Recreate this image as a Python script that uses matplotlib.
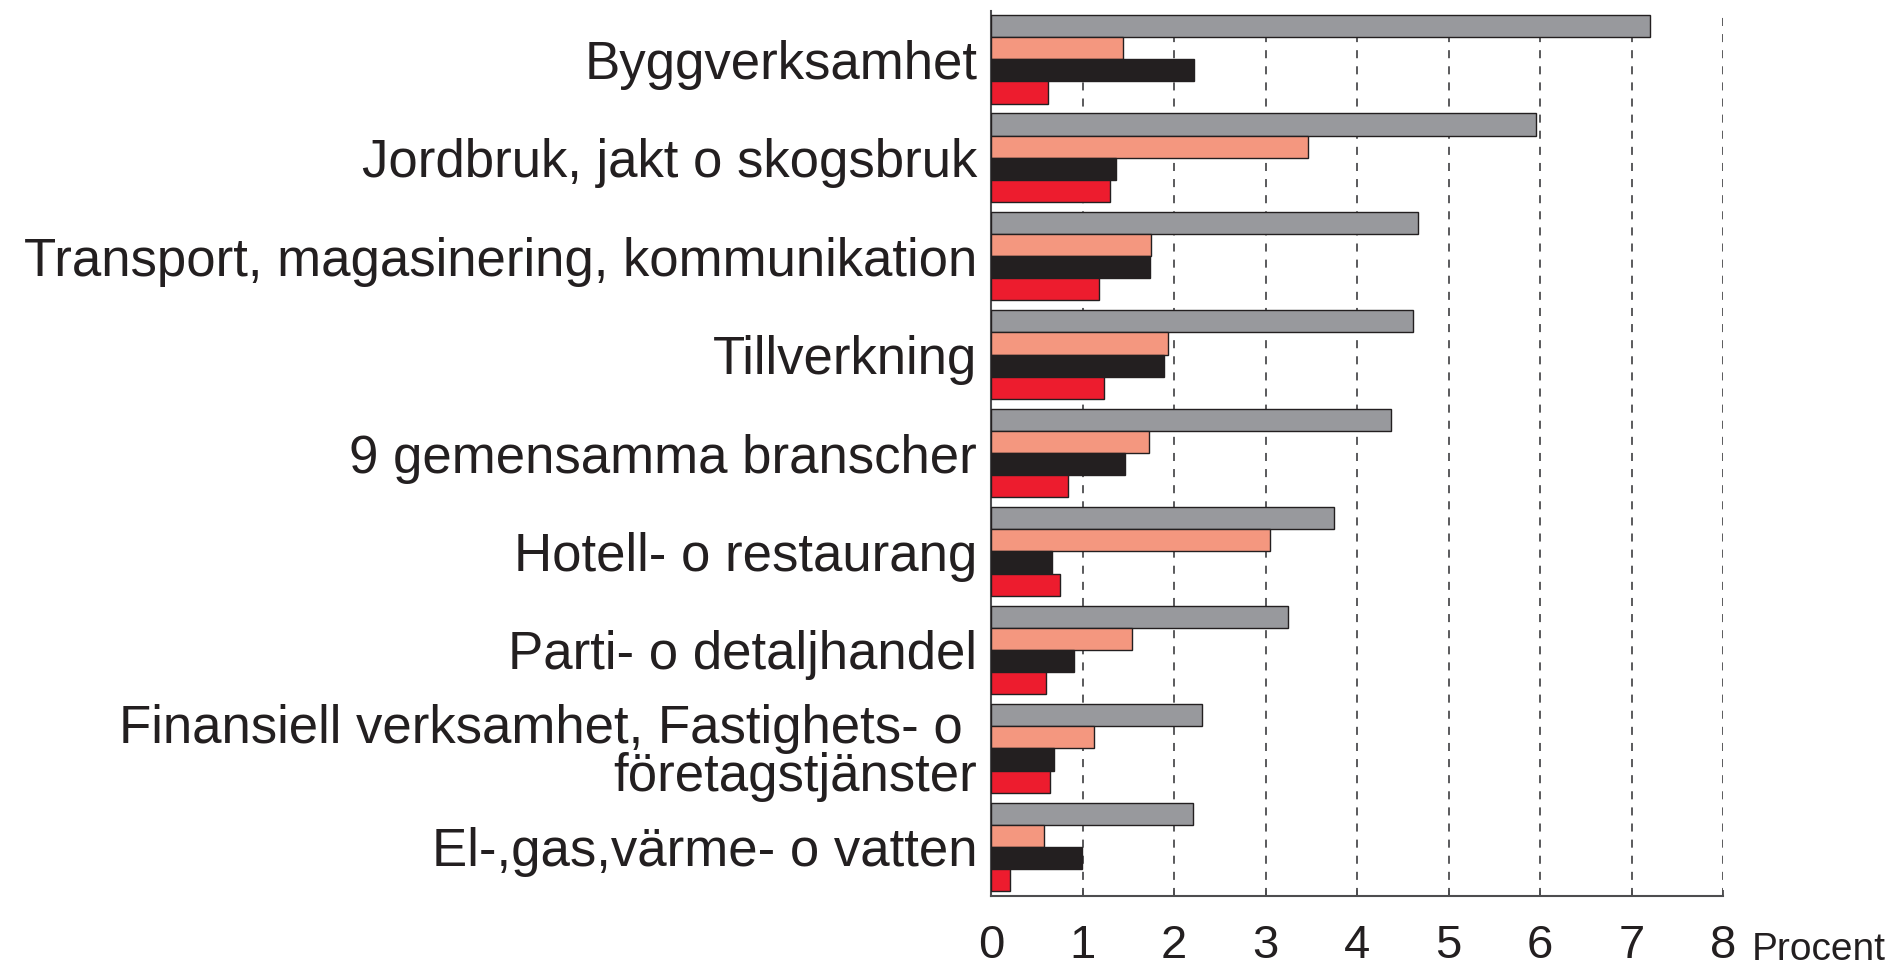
import matplotlib
matplotlib.use("Agg")
import matplotlib.pyplot as plt
import numpy as np

plt.rcParams['font.family'] = ['Liberation Sans', 'DejaVu Sans']
plt.rcParams['lines.scale_dashes'] = False

# branscher, uppifrån och ned
categories = [
    "Byggverksamhet",
    "Jordbruk, jakt o skogsbruk",
    "Transport, magasinering, kommunikation",
    "Tillverkning",
    "9 gemensamma branscher",
    "Hotell- o restaurang",
    "Parti- o detaljhandel",
    "Finansiell verksamhet, Fastighets- o \nföretagstjänster",
    "El-,gas,värme- o vatten",
]

# fyra serier per bransch (procent)
grey_vals = [7.20, 5.96, 4.67, 4.61, 4.37, 3.75, 3.24, 2.31, 2.21]
salmon_vals = [1.44, 3.46, 1.75, 1.93, 1.73, 3.05, 1.54, 1.12, 0.58]
black_vals = [2.22, 1.37, 1.74, 1.89, 1.46, 0.67, 0.91, 0.69, 0.99]
red_vals = [0.62, 1.30, 1.18, 1.23, 0.84, 0.75, 0.60, 0.64, 0.21]

x_ticks = [0, 1, 2, 3, 4, 5, 6, 7, 8]

series = [
    (grey_vals, "#98999d"),
    (salmon_vals, "#f4977f"),
    (black_vals, "#231f20"),
    (red_vals, "#ed1c2e"),
]

txt = "#231f20"
fig = plt.figure(figsize=(18.96, 9.73), dpi=100)
ax = fig.add_axes([0.5227, 0.0791, 0.3861, 0.9096])

pos = np.arange(len(categories))
h = 0.225
for k, (vals, col) in enumerate(series):
    ax.barh(pos + (k - 1.5) * h, vals, height=h, color=col,
            edgecolor="#231f20", linewidth=1.0, zorder=3)

# streckade stödlinjer
for t in x_ticks[1:]:
    ax.axvline(t, color="#4d4d4f", linewidth=1.3, linestyle=(0, (5.8, 5.8)), zorder=1)

ax.set_xlim(0, 8)
ax.set_ylim(8.5, -0.49)

ax.set_yticks(pos)
ax.set_yticklabels(categories, fontsize=38, color=txt, linespacing=0.95)
ax.tick_params(axis="y", length=0, pad=10)

ax.set_xticks(x_ticks)
ax.set_xticklabels([str(t) for t in x_ticks], fontsize=34, color=txt)
ax.tick_params(axis="x", direction="in", length=4, width=1.3, color="#4d4d4f", pad=20)

for s in ["top", "right"]:
    ax.spines[s].set_visible(False)
for s in ["left", "bottom"]:
    ax.spines[s].set_color("#4d4d4f")
    ax.spines[s].set_linewidth(1.5)

ax.annotate("Procent", xy=(1, 0), xycoords="axes fraction", xytext=(29, -64),
            textcoords="offset pixels", ha="left", va="baseline",
            fontsize=28, color=txt)

fig.savefig("out.png", dpi=100)
